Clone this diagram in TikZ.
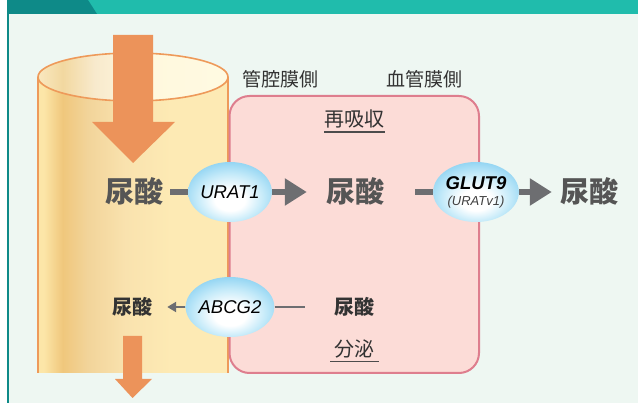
\documentclass[tikz,border=0pt]{standalone}
\usepackage{fontspec}
\newfontfamily\jp{Noto Sans CJK JP}
\newfontfamily\lat{Liberation Sans}[ItalicFont={Liberation Sans Italic},BoldItalicFont={Liberation Sans Bold Italic}]
\usetikzlibrary{shapes.geometric,arrows.meta}

\definecolor{bgpale}{HTML}{EEF7F2}
\definecolor{tealdark}{HTML}{0E8A88}
\definecolor{teallight}{HTML}{20BCAC}
\definecolor{tubeline}{HTML}{EE9A5A}
\definecolor{flow}{HTML}{EC935A}
\definecolor{cellfill}{HTML}{FCDCD7}
\definecolor{cellline}{HTML}{DE7E8E}
\definecolor{arrowgray}{HTML}{6D6E71}
\definecolor{bigtext}{HTML}{555555}
\definecolor{darktext}{HTML}{333333}
\definecolor{bubmid}{HTML}{C4EAF9}
\definecolor{bubedge}{HTML}{8CD2F2}
% tube wall tones
\definecolor{tubeA}{HTML}{FCE6A8}
\definecolor{tubeB}{HTML}{F0C77C}
\definecolor{tubeC}{HTML}{F2D49A}
\definecolor{tubeD}{HTML}{F9E2AE}
\definecolor{tubeE}{HTML}{FDEAB4}
% tube opening tones
\definecolor{openA}{HTML}{F9E8C0}
\definecolor{openB}{HTML}{F2D8A0}
\definecolor{openC}{HTML}{F8EACD}
\definecolor{openD}{HTML}{FFF8DD}
\definecolor{openE}{HTML}{FFFAE2}

% tube body: pale edge, darker band, fading to cream
\pgfdeclarehorizontalshading{tubebody}{100bp}{
  color(0bp)=(tubeA); color(25bp)=(tubeA); color(26.5bp)=(tubeA);
  color(31.5bp)=(tubeB); color(38bp)=(tubeC); color(48bp)=(tubeD);
  color(60bp)=(tubeE); color(75bp)=(tubeE); color(100bp)=(tubeE)}
% tube opening
\pgfdeclarehorizontalshading{tubetop}{100bp}{
  color(0bp)=(openA); color(25bp)=(openA); color(31.5bp)=(openB);
  color(40bp)=(openC); color(52bp)=(openD); color(75bp)=(openE);
  color(100bp)=(openE)}
% transporter bubble: white glow below centre
\pgfdeclareradialshading{bubble}{\pgfpoint{0bp}{-8bp}}{
  color(0bp)=(white); color(9bp)=(white); color(20bp)=(bubmid);
  color(30bp)=(bubedge); color(50bp)=(bubedge)}

\tikzset{
  bigsu/.style={font=\jp\bfseries\fontsize{29}{32}\selectfont, text=bigtext, inner sep=3pt},
  smallsu/.style={font=\jp\bfseries\fontsize{20}{22}\selectfont, text=darktext, inner sep=3pt},
  side/.style={font=\jp\fontsize{19}{21}\selectfont, text=darktext, inner sep=0pt},
  proc/.style={font=\jp\fontsize{20}{22}\selectfont, text=darktext, inner sep=0pt},
  carrier/.style={ellipse, shading=bubble, minimum width=80pt, minimum height=60pt,
    inner sep=0pt, font=\lat\itshape\fontsize{18.5}{19}\selectfont, text=black},
  thickline/.style={draw=arrowgray, line width=6pt},
  thickarrow/.style={thickline, -{Triangle[length=22pt,width=26pt]}},
  thinline/.style={draw=arrowgray, line width=2.5pt},
  thinarrow/.style={thinline, -{Triangle[length=9pt,width=10pt]}},
  uline/.style={draw=black!70, line width=1.3pt}
}

\begin{document}
\begin{tikzpicture}[x=1pt,y=-1pt]
\useasboundingbox (0,0) rectangle (638,403);

% frame and header bar
\fill[white] (0,0) rectangle (638,403);
\fill[bgpale] (9,14) rectangle (638,403);
\fill[tealdark] (7,0) rectangle (9,403);
\fill[teallight] (7,0) rectangle (638,14);
\fill[tealdark] (7,0) -- (88,0) -- (97,14) -- (7,14) -- cycle;

% tubule
\shade[shading=tubebody] (38,77) rectangle (228,373);
\shade[shading=tubetop] (133,77) ellipse [x radius=95pt, y radius=24pt];
\draw[tubeline, line width=1.6pt] (133,77) ellipse [x radius=95pt, y radius=24pt];
\draw[tubeline, line width=1.6pt] (38,77) -- (38,373);
\draw[tubeline, line width=1.6pt] (228,77) -- (228,373);

% filtrate flowing in
\fill[flow] (113,35) -- (153,35) -- (153,122) -- (175,122) -- (133,163)
  -- (92,122) -- (113,122) -- cycle;

% tubular cell
\draw[cellline, fill=cellfill, line width=2pt, rounded corners=20pt]
  (229.5,96) rectangle (479,373);

% side labels
\node[side] (lumen) at (280,79) {管腔膜側};
\node[side] (blood) at (424.5,79) {血管膜側};
\node[proc] (reab) at (354.5,118.5) {再吸収};
\draw[uline] ([yshift=-4pt]reab.south west) -- ([yshift=-4pt]reab.south east);
\node[proc] (secr) at (354.5,349) {分泌};
\draw[uline] ([xshift=-4pt,yshift=-3pt]secr.south west) -- ([xshift=4pt,yshift=-3pt]secr.south east);

% reabsorption row
\node[bigsu] (su1) at (134,191) {尿酸};
\node[carrier] (urat1) at (230,192) {URAT1};
\node[bigsu] (su2) at (355,191) {尿酸};
\node[carrier, font=\lat\itshape\bfseries\fontsize{18.5}{19}\selectfont, align=center] (glut9) at (476,192)
  {GLUT9\\[-3pt]{\lat\itshape\mdseries\fontsize{13}{14}\selectfont\color{black!75}(URATv1)}};
\node[bigsu] (su3) at (589,191) {尿酸};

\draw[thickline, shorten <=4pt] (su1.east |- urat1) -- (urat1.west);
\draw[thickarrow, shorten >=16pt] (urat1.east) -- (su2.west |- urat1);
\draw[thickline, shorten <=28pt] (su2.east |- glut9) -- (glut9.west);
\draw[thickarrow, shorten >=5pt] (glut9.east) -- (su3.west |- glut9);

% secretion row
\node[smallsu] (su4) at (132,307) {尿酸};
\node[carrier] (abcg2) at (230,307) {ABCG2};
\node[smallsu] (su5) at (354,307) {尿酸};

\draw[thinarrow, shorten >=12pt] (abcg2.west) -- (su4.east |- abcg2);
\draw[thinline, shorten >=26pt] (abcg2.east) -- (su5.west |- abcg2);

% urine leaving the tubule
\fill[flow] (123,336) -- (142,336) -- (142,379) -- (152,379) -- (132.5,398)
  -- (115,379) -- (123,379) -- cycle;
\end{tikzpicture}
\end{document}
